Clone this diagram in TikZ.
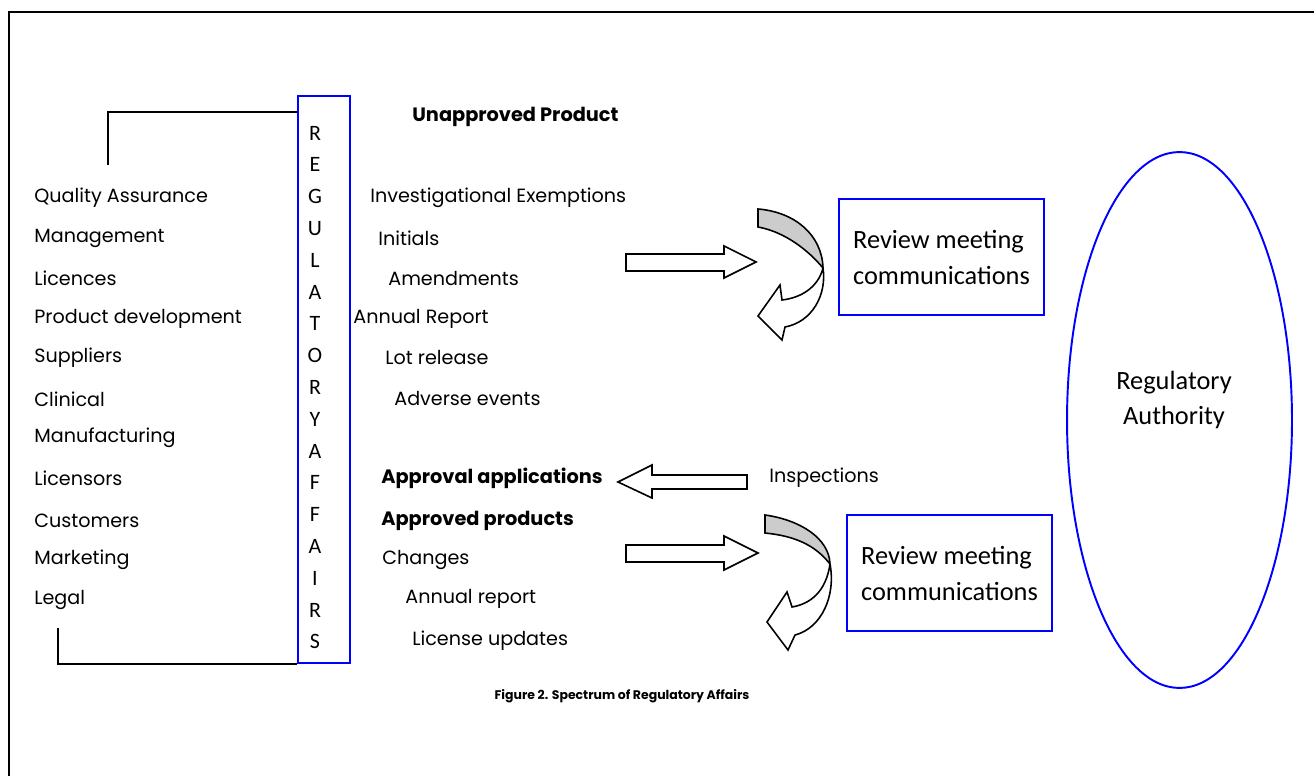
\documentclass[tikz,border=0pt]{standalone}
\usepackage{fontspec}
\setmainfont{Poppins}
\newfontfamily\calibri{Carlito}
\usetikzlibrary{positioning,shapes.geometric}

\begin{document}
\begin{tikzpicture}
	[
	x=0.02cm, y=-0.02cm,
	every node/.style={inner sep=0pt},
	item/.style={anchor=west,font=\fontsize{10.9}{12}\selectfont},
	heading/.style={item,font=\fontsize{11}{12}\selectfont\bfseries},
	letter/.style={font=\calibri\fontsize{12.5}{13}\selectfont},
	bluebox/.style={draw=blue,line width=1.1pt},
	bracket/.style={line width=1.1pt},
	fat/.style={draw,line width=0.9pt,fill=white,line join=miter},
	review/.style={bluebox,minimum width=4.1cm,minimum height=2.32cm,align=left,
		font=\calibri\fontsize{15}{20.5}\selectfont},
	]
	\useasboundingbox (0,0) rectangle (1314,776);
	\draw[line width=1.1pt] (1314,12) -- (9,12) -- (9,776);

	% the vertical box with its letters
	\node[bluebox,minimum width=1.04cm,minimum height=11.34cm] (ra) at (324,379.5) {};
	\foreach \ch [count=\i from 0] in {R,E,G,U,L,A,T,O,R,Y,A,F,F,A,I,R,S}
		\node[letter] (l\i) at (315,133+31.8*\i) {\ch};

	% departments
	\foreach \t/\y [count=\i] in {Quality Assurance/198,Management/238,Licences/278,
		Product development/319,Suppliers/358,Clinical/399,Manufacturing/438,
		Licensors/478,Customers/521,Marketing/560,Legal/600}
		\node[item] (dept\i) at (34,\y) {\t};
	\coordinate (qaend) at (108,165);
	\coordinate (legalend) at (58,628);
	\draw[bracket] (qaend) |- ([yshift=-0.34cm]ra.north west);
	\draw[bracket] (legalend) |- (ra.south west);

	% submissions
	\node[heading] (unapp) at (412,117) {Unapproved Product};
	\node[item] (ind) at (370,198) {Investigational Exemptions};
	\node[item] (init) at (378,238) {Initials};
	\node[item] (amend) at (388,279) {Amendments};
	\node[item] (annual) at (353,319) {Annual Report};
	\node[item] (lot) at (385,358) {Lot release};
	\node[item] (adverse) at (394,399) {Adverse events};
	\node[heading] (appl) at (381,478) {Approval applications};
	\node[item] (insp) at (769,478) {Inspections};
	\node[heading] (approved) at (381,521) {Approved products};
	\node[item] (changes) at (382,560) {Changes};
	\node[item] (annual2) at (405,599) {Annual report};
	\node[item] (update) at (412,641) {License updates};

	% block arrows
	\draw[fat] (626,254) -- (724,254) -- (724,246) -- (756,262) -- (724,278)
		-- (724,271) -- (626,271) -- cycle;
	\draw[fat] (747,475) -- (652,475) -- (652,465) -- (618,482) -- (652,498)
		-- (652,489) -- (747,489) -- cycle;
	\draw[fat] (626,545) -- (724,545) -- (724,536) -- (758,553) -- (724,570)
		-- (724,562) -- (626,562) -- cycle;

	% curved arrows
	\draw[fat,fill=black!20] (758,209) .. controls (795,212) and (822,235) .. (823,268)
		.. controls (808,250) and (785,232) .. (758,227) -- cycle;
	\draw[fat] (823,268) .. controls (827,295) and (812,322) .. (785,327) -- (782,340)
		-- (758,316) -- (780,285) -- (782,300) .. controls (800,298) and (818,288) .. (823,268);
	\draw[fat,fill=black!20] (765,515) .. controls (800,520) and (829,538) .. (830,564)
		.. controls (815,545) and (795,536) .. (765,533) -- cycle;
	\draw[fat] (830,564) .. controls (836,595) and (822,628) .. (795,635) -- (788,650)
		-- (767,622) -- (787,592) -- (792,607) .. controls (810,604) and (826,592) .. (830,564);

	% review boxes
	\node[review] (rev1) at (941.5,257) {Review meeting\\communications};
	\node[review] (rev2) at (949.5,573) {Review meeting\\communications};

	% authority
	\node[ellipse,draw=blue,line width=1.1pt,minimum width=4.5cm,minimum height=10.72cm]
		(auth) at (1179.5,420) {};
	\node[align=center,font=\calibri\fontsize{15}{20}\selectfont] (authtext)
		at (1174,400) {Regulatory\\Authority};

	\node[font=\fontsize{7.1}{9}\selectfont\bfseries] (caption) at (622,696)
		{Figure 2. Spectrum of Regulatory Affairs};
\end{tikzpicture}
\end{document}
